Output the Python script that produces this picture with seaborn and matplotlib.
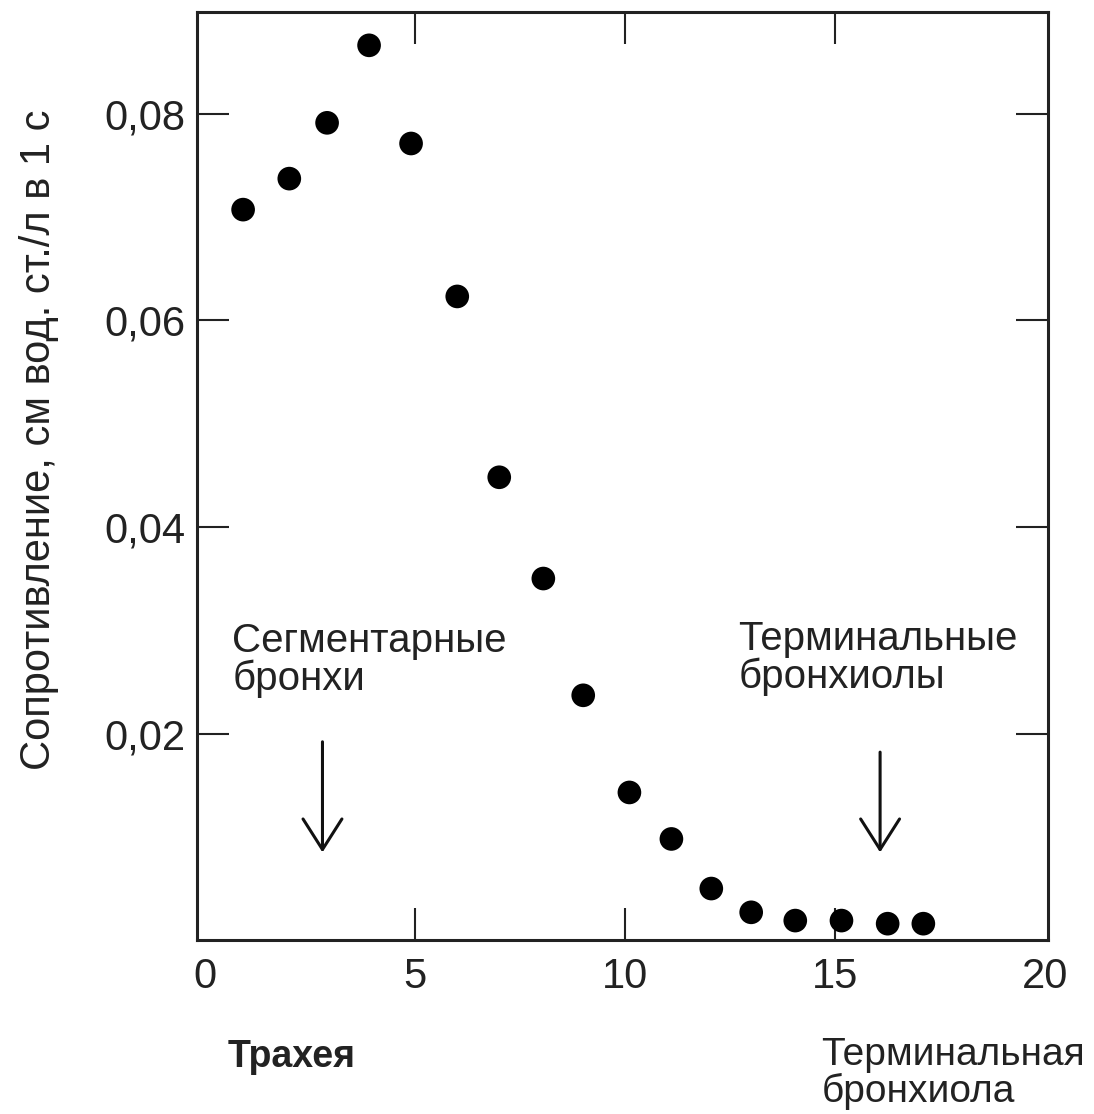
import matplotlib
matplotlib.use("Agg")
import matplotlib.pyplot as plt
import seaborn as sns
import pandas as pd

# Airway generation vs. airway resistance
generation = [0.9, 2.0, 2.9, 3.9, 4.9, 6.0, 7.0, 8.05, 9.0, 10.1, 11.1,
              12.05, 13.0, 14.05, 15.15, 16.25, 17.1]
resistance = [0.0707, 0.0737, 0.0791, 0.0866, 0.0771, 0.0623, 0.0448, 0.0350,
              0.0237, 0.0143, 0.0098, 0.0050, 0.0027, 0.0019, 0.0019, 0.0016,
              0.0016]

x_ticks = [0, 5, 10, 15, 20]
x_tick_labels = ["0", "5", "10", "15", "20"]
y_ticks = [0.02, 0.04, 0.06, 0.08]
y_tick_labels = ["0,02", "0,04", "0,06", "0,08"]

y_label = "Сопротивление, см вод. ст./л в 1 с"
left_note = "Сегментарные\nбронхи"
right_note = "Терминальные\nбронхиолы"
left_caption = "Трахея"
right_caption = "Терминальная\nбронхиола"

sns.set_style("ticks")
plt.rcParams["font.family"] = ["Liberation Sans", "DejaVu Sans"]

df = pd.DataFrame({"generation": generation, "resistance": resistance})

fig = plt.figure(figsize=(10.94, 11.14), dpi=100)
ax = fig.add_axes([0.180, 0.156, 0.778, 0.833])

sns.scatterplot(data=df, x="generation", y="resistance", ax=ax,
                s=290, color="black", edgecolor="none", legend=False)

ax.set_xlim(-0.2, 20.07)
ax.set_ylim(0, 0.0898)

ax.set_xticks(x_ticks)
ax.set_xticklabels(x_tick_labels)
ax.set_yticks(y_ticks)
ax.set_yticklabels(y_tick_labels)

for side in ["left", "right", "top", "bottom"]:
    ax.spines[side].set_visible(True)
    ax.spines[side].set_linewidth(2.2)
    ax.spines[side].set_color("#222222")

ax.tick_params(axis="both", which="major", direction="in", length=23,
               width=1.5, color="#222222", top=True, right=True,
               labelsize=30, labelcolor="#222222")
ax.tick_params(axis="x", pad=12)
ax.tick_params(axis="y", pad=8)

# the end ticks sit on the frame, so only their labels are shown
x_major = ax.xaxis.get_major_ticks()
for t in (x_major[0], x_major[-1]):
    t.tick1line.set_visible(False)
    t.tick2line.set_visible(False)

ax.set_xlabel("")
ax.set_ylabel("")
fig.text(0.036, 0.605, y_label, rotation=90, ha="center", va="center",
         fontsize=30, color="#222222")

# Annotations for airway regions
ax.text(0.64, 0.0308, left_note, ha="left", va="top", fontsize=29,
        linespacing=1.0, color="#222222")
ax.text(12.69, 0.0310, right_note, ha="left", va="top", fontsize=29,
        linespacing=1.0, color="#222222")

arrow_style = dict(arrowstyle="->,head_length=1.1,head_width=0.7",
                   color="#111111", lw=2.2, mutation_scale=20,
                   shrinkA=0, shrinkB=0)
ax.annotate("", xy=(2.79, 0.0085), xytext=(2.79, 0.0192),
            arrowprops=arrow_style)
ax.annotate("", xy=(16.07, 0.0085), xytext=(16.07, 0.0182),
            arrowprops=arrow_style)

fig.text(0.208, 0.051, left_caption, ha="left", va="center", fontsize=27,
         fontweight="bold", color="#222222")
fig.text(0.751, 0.069, right_caption, ha="left", va="top", fontsize=28,
         linespacing=1.0, color="#222222")

fig.savefig("out.png", dpi=100, facecolor="white")
